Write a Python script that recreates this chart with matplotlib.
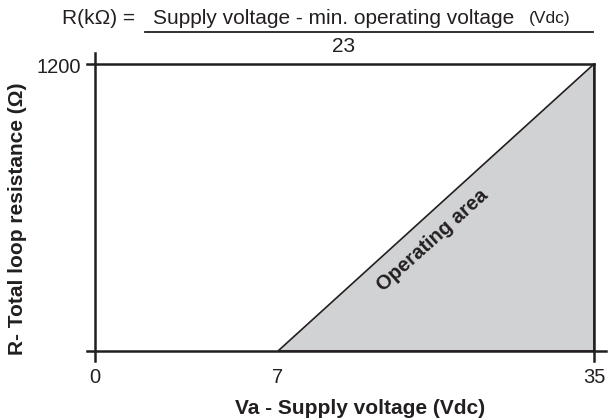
import matplotlib
matplotlib.use("Agg")
import numpy as np
import matplotlib.pyplot as plt

# data
v_min = 7        # minimum operating voltage (Vdc)
v_max = 35       # max supply voltage (Vdc)
r_max = 1200     # max loop resistance (ohm)
x_ticks = [0, 7, 35]
x_tick_labels = ["0", "7", "35"]
area_x = [v_min, v_max, v_max]
area_y = [0, 0, r_max]

# the original drawing is not to scale: 0-7 is stretched
k = 12.83 / 7
k2 = (35 - 12.83) / 28

def fwd(x):
    x = np.asarray(x, dtype=float)
    return np.where(x <= 7, x * k, 7 * k + (x - 7) * k2)

def inv(t):
    t = np.asarray(t, dtype=float)
    return np.where(t <= 7 * k, t / k, 7 + (t - 7 * k) / k2)

plt.rcParams['font.family'] = ['Liberation Sans', 'DejaVu Sans']
lc = "#231f20"
fs = 15

fig = plt.figure(figsize=(6.11, 4.19), dpi=100)
ax = fig.add_axes([0.1321, 0.1279, 0.8637, 0.7764])
ax.set_xscale("function", functions=(fwd, inv))
ax.set_xlim(-1 / k, 35 + 1 / k2)
ax.set_ylim(-60, 1300)
ax.axis("off")

# operating area
ax.fill(area_x, area_y, facecolor="#d1d2d4", edgecolor=lc, lw=1.2)

ax.plot([-0.31, 36.06], [0, 0], color=lc, lw=1.8)            # x axis
ax.plot([0, 0], [-42, 1246], color=lc, lw=1.8)               # y axis
ax.plot([-0.31, v_max], [r_max, r_max], color=lc, lw=1.8)    # top line
ax.plot([v_max, v_max], [-42, r_max], color=lc, lw=1.8)      # right line

for xt, lab in zip(x_ticks, x_tick_labels):
    ax.text(xt, -70, lab, ha="center", va="top", fontsize=14.5, color=lc)
ax.text(-0.55, r_max - 15, "1200", ha="right", va="center", fontsize=14.5, color=lc)

fig.text(0.590, 0.026, "Va - Supply voltage (Vdc)", ha="center", va="center",
         fontsize=fs, fontweight="bold", color=lc)
fig.text(0.0286, 0.478, "R- Total loop resistance (Ω)", rotation=90,
         ha="center", va="center", fontsize=fs, fontweight="bold", color=lc)

ax.text(20.7, 464, "Operating area", rotation=42, ha="center", va="center",
        fontsize=14.5, fontweight="bold", color=lc)

# formula on top
fig.text(0.101, 0.957, "R(kΩ) =", ha="left", va="center", fontsize=fs, color=lc)
fig.text(0.250, 0.957, "Supply voltage - min. operating voltage", ha="left",
         va="center", fontsize=fs, color=lc)
fig.text(0.933, 0.955, "(Vdc)", ha="right", va="center", fontsize=12.5, color=lc)
fig.add_artist(plt.Line2D([0.237, 0.971], [0.9236, 0.9236], color=lc, lw=1.3))
fig.text(0.563, 0.888, "23", ha="center", va="center", fontsize=fs, color=lc)

fig.savefig("out.png", dpi=100)
